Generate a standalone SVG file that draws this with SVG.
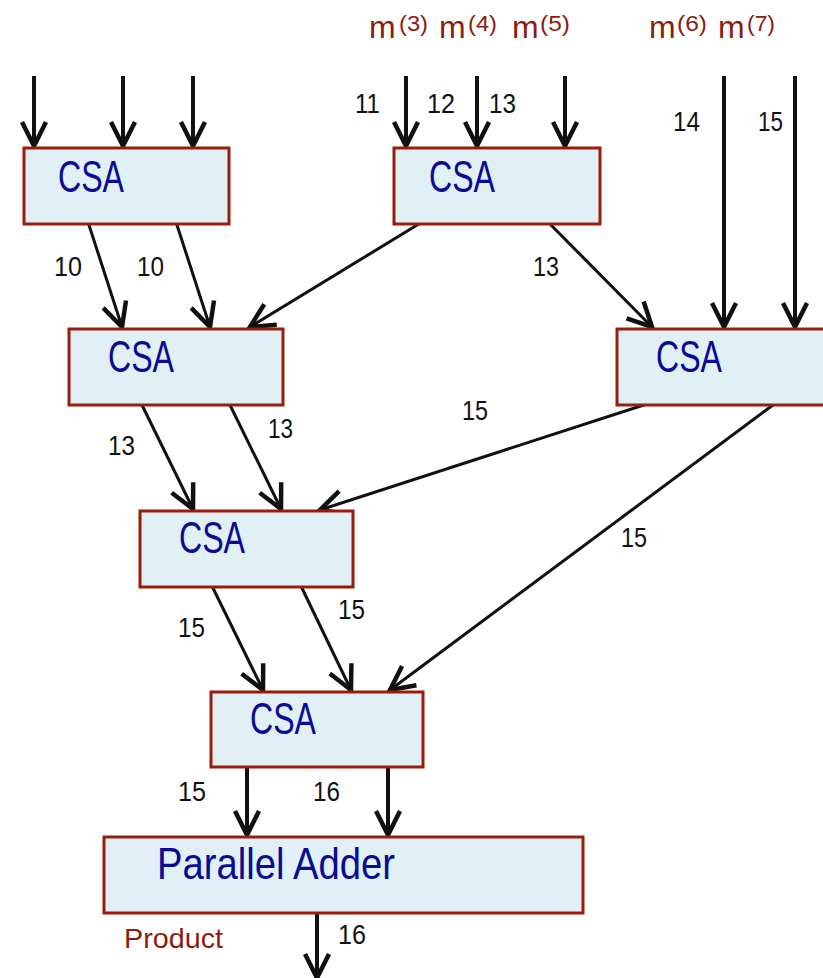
<svg xmlns="http://www.w3.org/2000/svg" width="823" height="978" viewBox="0 0 823 978">
<style>
.box{fill:#e0f0f5;stroke:#9b1c0c;stroke-width:3}
.csa{font-family:"Liberation Sans",Arial,sans-serif;font-size:44px;fill:#0a0a96}
.num{font-family:"Liberation Sans",Arial,sans-serif;font-size:27px;fill:#111}
.m{font-family:"Liberation Sans",Arial,sans-serif;font-size:32px;fill:#8c1c10}
.sup{font-family:"Liberation Sans",Arial,sans-serif;font-size:22px;fill:#8c1c10}
.thick{stroke:#111;stroke-width:4;fill:none;marker-end:url(#ah)}
.thin{stroke:#111;stroke-width:3;fill:none;marker-end:url(#ah)}
</style>
<defs>
<marker id="ah" markerUnits="userSpaceOnUse" markerWidth="40" markerHeight="40" refX="0" refY="0" orient="auto" overflow="visible">
<path d="M-24,-12 L0,0 L-24,12" fill="none" stroke="#111" stroke-width="4.5" stroke-linejoin="miter"/>
</marker>
</defs>
<rect width="823" height="978" fill="#fff"/>
<g id="connectors">
<line class="thick" x1="34" y1="76" x2="34" y2="146"/>
<line class="thick" x1="123" y1="76" x2="123" y2="146"/>
<line class="thick" x1="193" y1="76" x2="193" y2="146"/>
<line class="thick" x1="406" y1="76" x2="406" y2="146"/>
<line class="thick" x1="477" y1="76" x2="477" y2="146"/>
<line class="thick" x1="565" y1="76" x2="565" y2="146"/>
<line class="thick" x1="724" y1="76" x2="724" y2="327"/>
<line class="thick" x1="795" y1="76" x2="795" y2="327"/>
<line class="thin" x1="88" y1="222" x2="122" y2="327"/>
<line class="thin" x1="176" y1="222" x2="210" y2="327"/>
<line class="thin" x1="422" y1="222" x2="250" y2="327"/>
<line class="thin" x1="548" y1="222" x2="652" y2="327"/>
<line class="thin" x1="141" y1="403" x2="193" y2="509"/>
<line class="thin" x1="229" y1="403" x2="281" y2="509"/>
<line class="thin" x1="653" y1="402" x2="320" y2="510"/>
<line class="thin" x1="777" y1="402" x2="390" y2="690"/>
<line class="thin" x1="211" y1="584" x2="263" y2="690"/>
<line class="thin" x1="300" y1="584" x2="351" y2="690"/>
<line class="thick" x1="247" y1="766" x2="247" y2="835"/>
<line class="thick" x1="388" y1="766" x2="388" y2="835"/>
<line class="thick" x1="317" y1="909" x2="317" y2="978"/>
</g>
<g id="csa1"><rect class="box" x="24" y="148" width="205" height="76"/><text class="csa" x="58" y="192" textLength="66" lengthAdjust="spacingAndGlyphs">CSA</text></g>
<g id="csa2"><rect class="box" x="394" y="148" width="206" height="76"/><text class="csa" x="429" y="192" textLength="66" lengthAdjust="spacingAndGlyphs">CSA</text></g>
<g id="csa3"><rect class="box" x="69" y="329" width="214" height="76"/><text class="csa" x="108" y="372" textLength="66" lengthAdjust="spacingAndGlyphs">CSA</text></g>
<g id="csa4"><rect class="box" x="617" y="329" width="215" height="76"/><text class="csa" x="656" y="372" textLength="66" lengthAdjust="spacingAndGlyphs">CSA</text></g>
<g id="csa5"><rect class="box" x="140" y="511" width="213" height="76"/><text class="csa" x="179" y="553" textLength="66" lengthAdjust="spacingAndGlyphs">CSA</text></g>
<g id="csa6"><rect class="box" x="211" y="692" width="212" height="75"/><text class="csa" x="250" y="734" textLength="66" lengthAdjust="spacingAndGlyphs">CSA</text></g>
<g id="adder"><rect class="box" x="104" y="837" width="479" height="76"/><text class="csa" x="157" y="879" font-size="42" textLength="238" lengthAdjust="spacingAndGlyphs">Parallel Adder</text></g>
<g id="labels">
<text class="m" x="369" y="38">m</text><text class="sup" x="399" y="31" textLength="29" lengthAdjust="spacingAndGlyphs">(3)</text>
<text class="m" x="439" y="38">m</text><text class="sup" x="468" y="31" textLength="29" lengthAdjust="spacingAndGlyphs">(4)</text>
<text class="m" x="512" y="38">m</text><text class="sup" x="540" y="31" textLength="30" lengthAdjust="spacingAndGlyphs">(5)</text>
<text class="m" x="649" y="38">m</text><text class="sup" x="677" y="31" textLength="30" lengthAdjust="spacingAndGlyphs">(6)</text>
<text class="m" x="718" y="38">m</text><text class="sup" x="747" y="31" textLength="28" lengthAdjust="spacingAndGlyphs">(7)</text>
<text class="num" x="355" y="113" textLength="25" lengthAdjust="spacingAndGlyphs">11</text>
<text class="num" x="427" y="113" textLength="28" lengthAdjust="spacingAndGlyphs">12</text>
<text class="num" x="489" y="113" textLength="27" lengthAdjust="spacingAndGlyphs">13</text>
<text class="num" x="673" y="131" textLength="27" lengthAdjust="spacingAndGlyphs">14</text>
<text class="num" x="758" y="131" textLength="25" lengthAdjust="spacingAndGlyphs">15</text>
<text class="num" x="54" y="276" textLength="28" lengthAdjust="spacingAndGlyphs">10</text>
<text class="num" x="137" y="276" textLength="27" lengthAdjust="spacingAndGlyphs">10</text>
<text class="num" x="533" y="276" textLength="26" lengthAdjust="spacingAndGlyphs">13</text>
<text class="num" x="108" y="455" textLength="27" lengthAdjust="spacingAndGlyphs">13</text>
<text class="num" x="268" y="438" textLength="25" lengthAdjust="spacingAndGlyphs">13</text>
<text class="num" x="462" y="420" textLength="26" lengthAdjust="spacingAndGlyphs">15</text>
<text class="num" x="621" y="547" textLength="26" lengthAdjust="spacingAndGlyphs">15</text>
<text class="num" x="178" y="637" textLength="27" lengthAdjust="spacingAndGlyphs">15</text>
<text class="num" x="338" y="619" textLength="27" lengthAdjust="spacingAndGlyphs">15</text>
<text class="num" x="178" y="801" textLength="28" lengthAdjust="spacingAndGlyphs">15</text>
<text class="num" x="313" y="801" textLength="27" lengthAdjust="spacingAndGlyphs">16</text>
<text class="num" x="338" y="944" textLength="28" lengthAdjust="spacingAndGlyphs">16</text>
<text x="124" y="948" font-family="'Liberation Sans',Arial,sans-serif" font-size="28" fill="#8c1c10" textLength="99" lengthAdjust="spacingAndGlyphs">Product</text>
</g>
</svg>
